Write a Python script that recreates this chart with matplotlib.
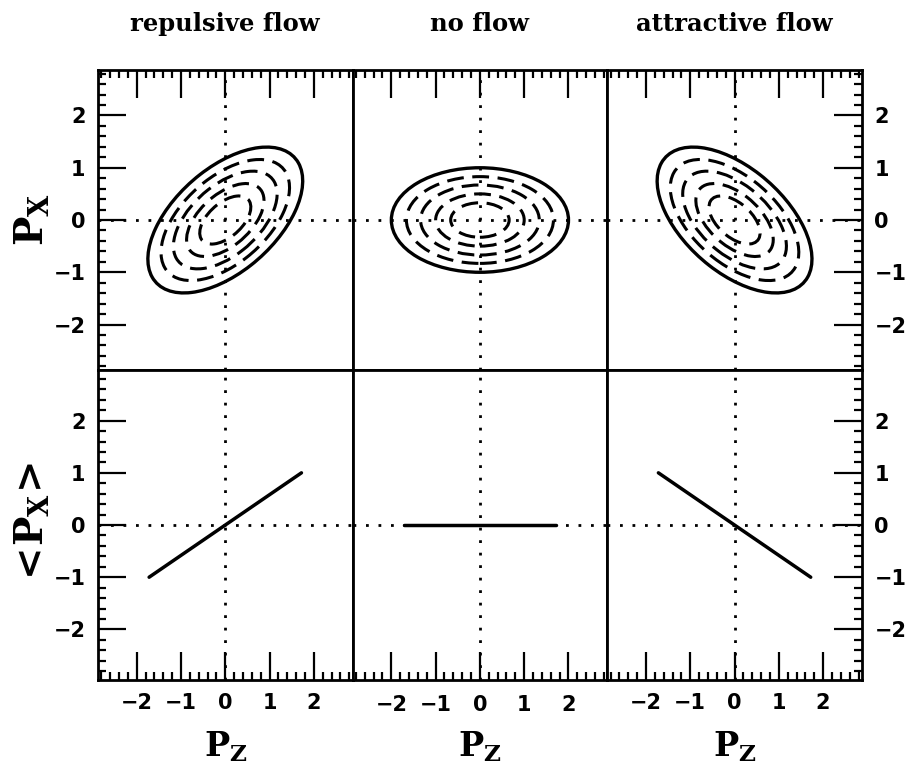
import matplotlib
matplotlib.use("Agg")
import numpy as np
import matplotlib.pyplot as plt
from matplotlib.patches import Ellipse
from matplotlib.ticker import MultipleLocator

# panel titles and flow parameters
titles = ["repulsive flow", "no flow", "attractive flow"]
tilt_deg = [33.5, 0, -33.5]       # rotation of the momentum ellipse
semi_major = [1.98, 2.0, 1.98]    # half axes of outer contour
semi_minor = [1.04, 1.0, 1.04]
contour_scale = [1.0, 0.83, 0.67, 0.5, 0.33]   # outer solid, inner dashed
# <P_x> vs P_z lines (end points)
line_pz = [-1.72, 1.72]
line_px = [[-1.0, 1.0], [0.0, 0.0], [1.0, -1.0]]

plt.rcParams['mathtext.fontset'] = 'dejavuserif'

fig, axes = plt.subplots(2, 3, figsize=(9.13, 7.77), dpi=100,
                         gridspec_kw=dict(hspace=0, wspace=0, height_ratios=[300, 310]))
fig.subplots_adjust(left=0.1073, right=0.944, top=0.9099, bottom=0.1248)

ylims = [(-2.87, 2.87), (-2.97, 2.97)]
dotted = (0, (1, 3.5))

for r in range(2):
    for c in range(3):
        ax = axes[r, c]
        ax.set_xlim(-2.875, 2.875)
        ax.set_ylim(*ylims[r])
        for s in ax.spines.values():
            s.set_linewidth(2.0)
        ax.set_xticks([-2, -1, 0, 1, 2])
        ax.set_yticks([-2, -1, 0, 1, 2])
        ax.xaxis.set_minor_locator(MultipleLocator(0.2))
        ax.yaxis.set_minor_locator(MultipleLocator(0.2))
        ax.tick_params(which='both', direction='in', top=False, bottom=False,
                       left=False, right=False, labelleft=False, labelbottom=False,
                       width=1.6)
        ax.tick_params(which='major', length=20)
        ax.tick_params(which='minor', length=6)
        if r == 0:
            ax.tick_params(which='both', top=True)
        else:
            ax.tick_params(which='both', bottom=True, labelbottom=True, pad=11)
        if c == 0:
            ax.tick_params(which='both', left=True, labelleft=True, pad=9)
        if c == 2:
            ax.tick_params(which='both', right=True, labelright=True, pad=9)
        for lab in ax.get_xticklabels() + ax.get_yticklabels():
            lab.set_fontsize(15)
            lab.set_fontweight('bold')
        ax.axhline(0, color='black', lw=2.0, ls=dotted)
        ax.axvline(0, color='black', lw=2.0, ls=dotted)

for c in range(3):
    ax = axes[0, c]
    for k, s in enumerate(contour_scale):
        e = Ellipse((0, 0), 2 * semi_major[c] * s, 2 * semi_minor[c] * s, angle=tilt_deg[c],
                    fill=False, color='black', lw=2.4 if k == 0 else 2.2,
                    ls='-' if k == 0 else (0, (5.5, 2.8)))
        ax.add_patch(e)
    ax.set_title(titles[c], fontsize=17.5, fontweight='bold', family='DejaVu Serif', pad=28)

    ax = axes[1, c]
    ax.plot(line_pz, line_px[c], color='black', lw=2.5, solid_capstyle='round')
    ax.set_xlabel(r'$\mathbf{P_Z}$', fontsize=24)
    ax.xaxis.set_label_coords(0.5, -0.16)

axes[0, 0].set_ylabel(r'$\mathbf{P_X}$', fontsize=28, labelpad=2)
axes[1, 0].set_ylabel(r'$\mathbf{<\!P_X\!>}$', fontsize=28, labelpad=2)

fig.savefig('out.png', dpi=100)
